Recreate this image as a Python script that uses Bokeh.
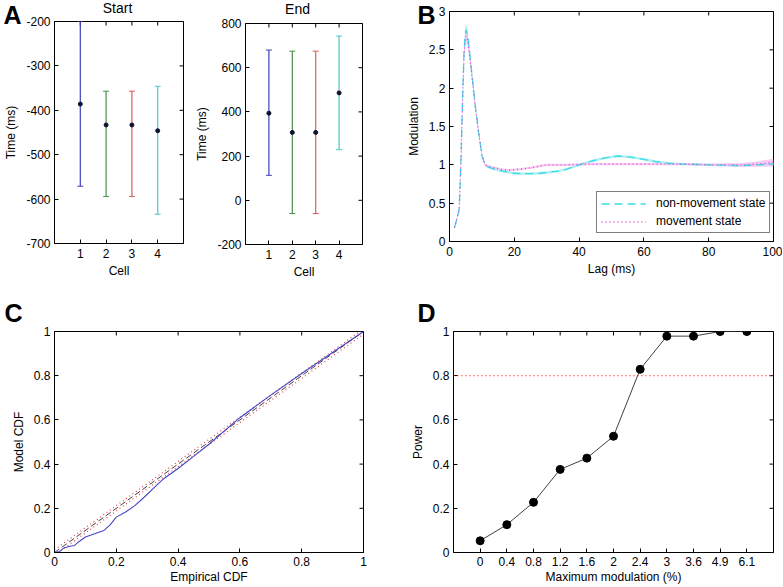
import math
from bokeh.plotting import figure
from bokeh.models import FixedTicker, Range1d, Label, Legend, LegendItem, Span, PrintfTickFormatter, GridBox
from bokeh.layouts import column
from bokeh.embed import file_html
from bokeh.resources import INLINE

FONT = "Liberation Sans"

# ---------------- Data ----------------
# Panel A
cells = [1, 2, 3, 4]
cell_colors = ["#4040b8", "#4a8f4a", "#e05a5a", "#4cc8c8"]
start_mean = [-386, -433, -433, -446]
start_upper = [-200, -357, -357, -346]
start_lower = [-571, -594, -594, -634]
end_mean = [394, 307, 307, 486]
end_upper = [680, 675, 675, 743]
end_lower = [113, -60, -60, 229]

# Panel B
lag = [1.5, 2, 3, 3.5, 4, 4.5, 5, 5.5, 6, 7, 8, 9, 10, 11, 12, 14, 16, 18, 20, 22, 25, 28, 30, 33, 36,
       40, 44, 48, 52, 56, 60, 64, 68, 72, 76, 80, 85, 90, 95, 100]
nonmov = [0.18, 0.25, 0.42, 1.0, 1.8, 2.5, 2.76, 2.72, 2.55, 2.15, 1.75, 1.42, 1.12, 1.0, 0.97, 0.94, 0.92,
          0.905, 0.89, 0.885, 0.885, 0.89, 0.90, 0.915, 0.94, 1.0, 1.05, 1.09, 1.115, 1.10, 1.07, 1.04,
          1.02, 1.01, 1.005, 1.0, 0.995, 0.99, 1.0, 1.01]
nonmov_band = [0.02, 0.02, 0.03, 0.05, 0.06, 0.07, 0.07, 0.07, 0.06, 0.05, 0.04, 0.03, 0.02, 0.015, 0.015,
               0.015, 0.015, 0.015, 0.015, 0.015, 0.015, 0.015, 0.015, 0.015, 0.015, 0.015, 0.015, 0.015,
               0.015, 0.015, 0.015, 0.015, 0.015, 0.015, 0.015, 0.015, 0.015, 0.015, 0.015, 0.02]
mov = [0.18, 0.25, 0.42, 1.0, 1.8, 2.45, 2.68, 2.66, 2.5, 2.13, 1.74, 1.42, 1.13, 1.0, 0.98, 0.96, 0.94,
       0.93, 0.935, 0.945, 0.96, 0.985, 1.0, 1.0, 1.0, 1.005, 1.01, 1.01, 1.01, 1.01, 1.01, 1.01, 1.01,
       1.01, 1.005, 1.0, 1.0, 1.0, 1.01, 1.03]
mov_band = [0.02, 0.02, 0.03, 0.05, 0.06, 0.07, 0.08, 0.08, 0.07, 0.05, 0.04, 0.03, 0.02, 0.015, 0.015,
            0.015, 0.015, 0.015, 0.015, 0.015, 0.015, 0.015, 0.015, 0.015, 0.015, 0.015, 0.015, 0.015,
            0.015, 0.015, 0.015, 0.015, 0.015, 0.015, 0.015, 0.015, 0.02, 0.025, 0.035, 0.05]

# Panel C
emp_cdf = [0, 0.015, 0.03, 0.05, 0.065, 0.08, 0.1, 0.13, 0.16, 0.18, 0.2, 0.23, 0.26, 0.29, 0.32, 0.35,
           0.4, 0.45, 0.5, 0.55, 0.6, 0.7, 0.8, 0.9, 1.0]
model_cdf = [0, 0.003, 0.02, 0.028, 0.032, 0.05, 0.07, 0.085, 0.1, 0.125, 0.16, 0.183, 0.212, 0.25, 0.29,
             0.33, 0.38, 0.435, 0.49, 0.55, 0.61, 0.712, 0.81, 0.905, 1.0]
diag = [0, 1]
ci_offset = 0.012

# Panel D
mod_labels = ["0", "0.4", "0.8", "1.2", "1.6", "2", "2.4", "3", "3.6", "4.9", "6.1"]
mod_pos = list(range(1, len(mod_labels) + 1))
power = [0.053, 0.126, 0.227, 0.376, 0.427, 0.526, 0.829, 0.979, 0.979, 1.0, 1.0]
power_threshold = 0.8

# Panel titles / letters
panel_titles = ["Start", "End"]
panel_letters = ["A", "B", "C", "D"]


# ---------------- Helpers ----------------
def no_align(p):
    if "frame_align" in p.properties():
        p.frame_align = False


def style_axis(ax, ticks, overrides=None):
    ax.ticker = FixedTicker(ticks=ticks)
    if overrides is not None:
        ax.major_label_overrides = overrides
    else:
        ax.formatter = PrintfTickFormatter(format="%g")
    ax.major_tick_in = 4
    ax.major_tick_out = 0
    ax.minor_tick_line_color = None
    ax.axis_line_color = "black"
    ax.major_tick_line_color = "black"
    ax.major_label_text_font = FONT
    ax.major_label_text_font_size = "12px"
    ax.major_label_text_color = "black"
    ax.axis_label_text_font = FONT
    ax.axis_label_text_font_style = "normal"
    ax.axis_label_text_font_size = "12px"
    ax.axis_label_text_color = "black"


def make_fig(w, h, bl, br, bt, bb, xr, yr, xticks, yticks, xlabel, ylabel, xover=None):
    p = figure(width=w, height=h, x_range=Range1d(*xr), y_range=Range1d(*yr),
               output_backend="svg", toolbar_location=None,
               min_border_left=bl, min_border_right=br, min_border_top=bt, min_border_bottom=bb,
               x_axis_label=xlabel, y_axis_label=ylabel)
    no_align(p)
    p.title.visible = False
    p.xgrid.visible = False
    p.ygrid.visible = False
    p.outline_line_color = "black"
    p.background_fill_color = "white"
    p.border_fill_color = "white"
    style_axis(p.xaxis[0], xticks, xover)
    style_axis(p.yaxis[0], yticks)
    p.xaxis[0].major_label_standoff = 5
    p.xaxis[0].axis_label_standoff = 3
    p.yaxis[0].major_label_standoff = 4
    p.yaxis[0].axis_label_standoff = 5
    # inward ticks on top and right edges (half of each dash is clipped by the frame)
    p.scatter(x=xticks, y=[yr[1]] * len(xticks), marker="dash", angle=math.pi / 2, size=8,
              line_color="black", line_width=1)
    p.scatter(x=[xr[1]] * len(yticks), y=yticks, marker="dash", size=8, line_color="black", line_width=1)
    return p


def errorbars(p, mean, upper, lower):
    p.segment(x0=cells, y0=lower, x1=cells, y1=upper, line_color=cell_colors, line_width=1.2)
    p.scatter(x=cells, y=upper, marker="dash", size=6, line_color=cell_colors, line_width=1)
    p.scatter(x=cells, y=lower, marker="dash", size=6, line_color=cell_colors, line_width=1)
    p.scatter(x=cells, y=mean, marker="circle", size=4, fill_color="#101030", line_color="#101030")


# ---------------- Panel A: Start ----------------
pA1 = make_fig(192, 290, 54, 9, 21, 47, (0, 5), (-700, -200), cells,
               [-700, -600, -500, -400, -300, -200], "Cell", "Time (ms)")
errorbars(pA1, start_mean, start_upper, start_lower)

# ---------------- Panel A: End ----------------
pA2 = make_fig(208, 290, 43, 38, 23, 46, (0, 5), (-200, 800), cells,
               [-200, 0, 200, 400, 600, 800], "Cell", "Time (ms)")
errorbars(pA2, end_mean, end_upper, end_lower)

# ---------------- Panel B ----------------
pB = make_fig(382, 290, 49, 9, 11, 49, (0, 100), (0, 3), [0, 20, 40, 60, 80, 100],
              [0, 0.5, 1, 1.5, 2, 2.5, 3], "Lag (ms)", "Modulation")
nm_lo = [c - b for c, b in zip(nonmov, nonmov_band)]
nm_hi = [c + b for c, b in zip(nonmov, nonmov_band)]
mv_lo = [c - b for c, b in zip(mov, mov_band)]
mv_hi = [c + b for c, b in zip(mov, mov_band)]
pB.varea(x=lag, y1=nm_lo, y2=nm_hi, fill_color="#aef0f2", fill_alpha=1.0)
pB.varea(x=lag, y1=mv_lo, y2=mv_hi, fill_color="#f6bdf0", fill_alpha=0.8)
r_nm = pB.line(lag, nonmov, line_color="#3cdde6", line_width=1.3, line_dash="8 5")
r_mv = pB.line(lag, mov, line_color="#e040d8", line_width=1.3, line_dash="1 3")
legend = Legend(items=[LegendItem(label="non-movement state", renderers=[r_nm]),
                       LegendItem(label="movement state", renderers=[r_mv])],
                location=(147, 8))
legend.border_line_color = "black"
legend.border_line_width = 1
legend.background_fill_color = "white"
legend.background_fill_alpha = 1.0
legend.label_text_font = FONT
legend.label_text_font_size = "12px"
legend.label_text_color = "black"
legend.glyph_width = 45
legend.glyph_height = 11
legend.label_height = 11
legend.label_standoff = 10
legend.padding = 4
legend.spacing = 4
legend.margin = 0
pB.add_layout(legend)

# ---------------- Panel C ----------------
pC = make_fig(400, 296, 54, 37, 41, 34, (0, 1), (0, 1), [0, 0.2, 0.4, 0.6, 0.8, 1],
              [0, 0.2, 0.4, 0.6, 0.8, 1], "Empirical CDF", "Model CDF")
pC.xaxis[0].major_label_standoff = 4
pC.xaxis[0].axis_label_standoff = 1
pC.line(diag, [d + ci_offset for d in diag], line_color="#e84040", line_width=1.2, line_dash="1 3")
pC.line(diag, [d - ci_offset for d in diag], line_color="#e84040", line_width=1.2, line_dash="1 3")
pC.line(diag, diag, line_color="#444444", line_width=1, line_dash="6 3")
pC.line(emp_cdf, model_cdf, line_color="#4646c8", line_width=1.1)

# ---------------- Panel D ----------------
pD = make_fig(382, 296, 53, 9, 41, 34, (0, 12), (0, 1), mod_pos,
              [0, 0.2, 0.4, 0.6, 0.8, 1], "Maximum modulation (%)", "Power",
              xover={float(k): v for k, v in zip(mod_pos, mod_labels)})
pD.xaxis[0].major_label_standoff = 4
pD.xaxis[0].axis_label_standoff = 1
pD.add_layout(Span(location=power_threshold, dimension="width", line_color="#ff3030",
                   line_width=1.2, line_dash="1 3"))
pD.line(mod_pos, power, line_color="#404040", line_width=1)
pD.scatter(mod_pos, power, marker="circle", size=8, fill_color="black", line_color="black")

# ---------------- Overlay for panel letters and titles ----------------
W, H = 782, 586
ov = figure(width=W, height=H, x_range=Range1d(0, W), y_range=Range1d(H, 0),
            output_backend="svg", toolbar_location=None, x_axis_location=None, y_axis_location=None,
            min_border=0, min_border_left=0, min_border_right=0, min_border_top=0, min_border_bottom=0)
no_align(ov)
ov.title.visible = False
ov.xgrid.visible = False
ov.ygrid.visible = False
ov.outline_line_color = None
ov.background_fill_color = None
ov.border_fill_color = None


def ov_text(x, y, text, size, bold=False, align="left"):
    ov.add_layout(Label(x=x, y=y, text=text, text_font=FONT, text_font_size=size,
                        text_font_style="bold" if bold else "normal", text_color="black",
                        text_align=align, text_baseline="alphabetic"))


ov_text(117, 7, panel_titles[0], "14px", align="center")
ov_text(297, 8, panel_titles[1], "14px", align="center")
letter_pos = [(3, 14), (417, 14), (4, 312), (417, 312)]
for letter, (lx, ly) in zip(panel_letters, letter_pos):
    ov_text(lx, ly, letter, "25px", bold=True)

# each figure is wrapped in its own column so that frames are not aligned across the grid
layout = GridBox(children=[(column(pA1), 0, 0), (column(pA2), 0, 1), (column(pB), 0, 2),
                           (column(pC), 1, 0, 1, 2), (column(pD), 1, 2),
                           (column(ov), 0, 0, 2, 3)], spacing=0)
open("out.html", "w").write(file_html(layout, INLINE))
